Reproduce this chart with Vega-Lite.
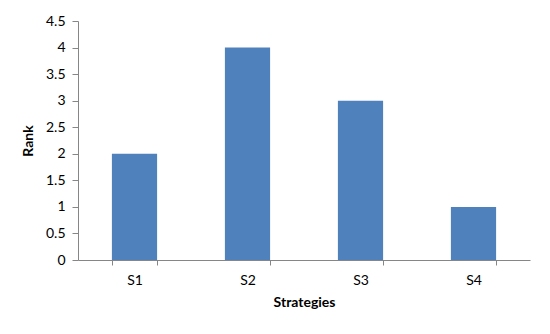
{
  "$schema": "https://vega.github.io/schema/vega-lite/v6.json",
  "autosize": {"type": "none"},
  "padding": {"left": 78, "top": 21, "right": 20, "bottom": 74},
  "width": 452,
  "height": 239,
  "background": "white",
  "config": {"view": {"stroke": null}, "font": "Lato"},
  "data": {"values": [
    {"strategy": "S1", "rank": 2},
    {"strategy": "S2", "rank": 4},
    {"strategy": "S3", "rank": 3},
    {"strategy": "S4", "rank": 1}
  ]},
  "mark": {"type": "bar", "color": "#4F81BD"},
  "encoding": {
    "x": {
      "field": "strategy", "type": "nominal", "title": "Strategies",
      "scale": {"paddingInner": 0.6, "paddingOuter": 0.3},
      "axis": {"labelAngle": 0, "tickBand": "extent", "domainColor": "#868686", "tickColor": "#868686",
        "tickSize": 5, "labelPadding": 8, "labelFontSize": 14, "labelColor": "#000",
        "titleFontSize": 14, "titleFontWeight": "bold", "titleColor": "#000", "titlePadding": 8}
    },
    "y": {
      "field": "rank", "type": "quantitative", "title": "Rank",
      "scale": {"domain": [0, 4.5], "nice": false},
      "axis": {"values": [0, 0.5, 1, 1.5, 2, 2.5, 3, 3.5, 4, 4.5], "format": "~g", "grid": false, "domainColor": "#868686", "tickColor": "#868686",
        "tickSize": 6, "labelPadding": 7, "labelFontSize": 14, "labelColor": "#000",
        "titleFontSize": 14, "titleFontWeight": "bold", "titleColor": "#000", "titlePadding": 10}
    }
  }
}
